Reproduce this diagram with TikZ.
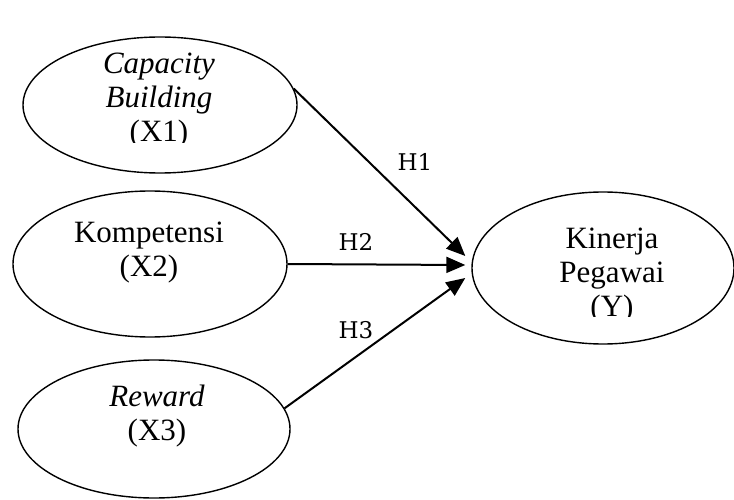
\documentclass[tikz,border=0pt]{standalone}
\usepackage{fontspec}
\setmainfont{Liberation Serif}
\newfontfamily\hypfont{DejaVu Serif}
\usepackage{tikz}
\usetikzlibrary{shapes.geometric, positioning, arrows.meta, calc}

\tikzset{
    varshape/.style={draw, shape=ellipse, line width=1.4pt, inner sep=0pt},
    vartext/.style={align=center, inner sep=0pt,
                    font=\fontsize{31}{34}\selectfont},
    hyptext/.style={inner sep=0pt, font=\hypfont\fontsize{23}{26}\selectfont},
    hyparrow/.style={line width=2pt, -{Triangle[length=19pt,width=16pt]}}
}

\begin{document}
\begin{tikzpicture}[x=1pt, y=-1pt]
        \useasboundingbox (0,0) rectangle (734,500);
        % variables
        \node (x1shape) [varshape, minimum width=274pt, minimum height=136pt] at (160,105) {};
        \node (x2shape) [varshape, minimum width=274pt, minimum height=146pt] at (150,264) {};
        \node (x3shape) [varshape, minimum width=272pt, minimum height=138pt] at (154,429) {};
        \node (yshape) [varshape, minimum width=262pt, minimum height=152pt] at (603,268) {};

        \begin{scope}
            \clip (20,40) rectangle (300,143);
            \node (x1text) [vartext] at ($(x1shape.center)+(-1,-4)$) {\textit{Capacity}\\\textit{Building}\\(X1)};
        \end{scope}
        \node (x2text) [vartext] at ($(x2shape.center)+(-1,-11)$) {Kompetensi\\(X2)};
        \node (x3text) [vartext] at ($(x3shape.center)+(3,-13)$) {\textit{Reward}\\(X3)};
        \begin{scope}
            \clip (480,200) rectangle (730,316);
            \node (ytext) [vartext] at ($(yshape.center)+(9,8)$) {Kinerja\\Pegawai\\(Y)};
        \end{scope}

        % hypotheses
        \coordinate (h1end) at ($(yshape.west)+(-6,-12)$);
        \coordinate (h2end) at ($(yshape.west)+(-6,-3)$);
        \coordinate (h3end) at ($(yshape.west)+(-6,10)$);
        \draw[hyparrow] (x1shape.7) -- (h1end);
        \draw[hyparrow] (x2shape.east) -- (h2end);
        \draw[hyparrow] (x3shape.9) -- (h3end);

        \node (h1) [hyptext] at (415,162) {H1};
        \node (h2) [hyptext] at (356,242) {H2};
        \node (h3) [hyptext] at (356,330) {H3};
    \end{tikzpicture}
\end{document}
